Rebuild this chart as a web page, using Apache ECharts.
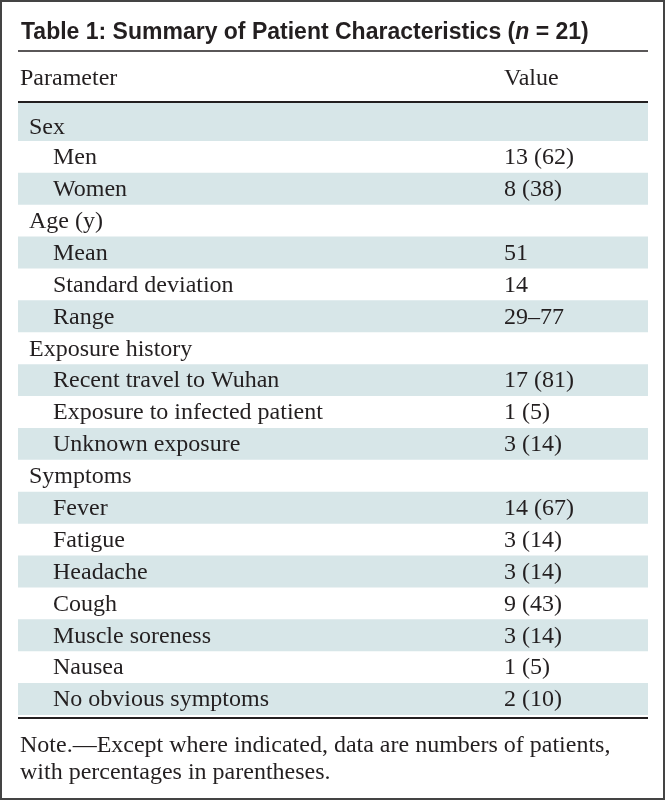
<!DOCTYPE html>
<html>
<head>
<meta charset="utf-8">
<script src="https://cdn.jsdelivr.net/npm/echarts@6/dist/echarts.min.js"></script>
<style>
html,body{margin:0;padding:0;background:#fff;}
#chart{width:666px;height:801px;}
</style>
</head>
<body>
<div id="chart"></div>
<script>
const titleText = 'Table 1: Summary of Patient Characteristics (';
const titleN = 'n';
const titleTail = ' = 21)';
const headerLabels = ['Parameter', 'Value'];
const rowLabels = ['Sex', 'Men', 'Women', 'Age (y)', 'Mean', 'Standard deviation', 'Range',
  'Exposure history', 'Recent travel to Wuhan', 'Exposure to infected patient', 'Unknown exposure',
  'Symptoms', 'Fever', 'Fatigue', 'Headache', 'Cough', 'Muscle soreness', 'Nausea', 'No obvious symptoms'];
const rowValues = ['', '13 (62)', '8 (38)', '', '51', '14', '29\u201377',
  '', '17 (81)', '1 (5)', '3 (14)',
  '', '14 (67)', '3 (14)', '3 (14)', '9 (43)', '3 (14)', '1 (5)', '2 (10)'];
const rowLevel = [0, 1, 1, 0, 1, 1, 1, 0, 1, 1, 1, 0, 1, 1, 1, 1, 1, 1, 1];
const noteLines = ['Note.\u2014Except where indicated, data are numbers of patients,',
  'with percentages in parentheses.'];

const SERIF = '"Liberation Serif", "DejaVu Serif", serif';
const SANS = '"Liberation Sans", "DejaVu Sans", sans-serif';
const INK = '#231f20';
const BAND = '#d7e6e8';
const FS = 24;

const chart = echarts.init(document.getElementById('chart'), null, {renderer: 'canvas'});

const option = {
  animation: false,
  backgroundColor: '#fff',
  grid: {left: 18, right: 18, top: 109, height: 606, containLabel: false},
  xAxis: {type: 'value', min: 0, max: 1, show: false},
  yAxis: {type: 'category', data: rowLabels, inverse: true, show: false},
  title: {
    left: 16, top: 16,
    text: '{b|' + titleText + '}{i|' + titleN + '}{b|' + titleTail + '}',
    textStyle: {
      rich: {
        b: {fontFamily: SANS, fontWeight: 'bold', fontSize: 23, color: INK},
        i: {fontFamily: SANS, fontWeight: 'bold', fontStyle: 'italic', fontSize: 23, color: INK}
      }
    }
  },
  graphic: [
    {type: 'rect', shape: {x: 1, y: 1, width: 663, height: 798}, style: {fill: 'none', stroke: '#444', lineWidth: 2}, z: 100},
    {type: 'line', shape: {x1: 18, y1: 51, x2: 648, y2: 51}, style: {stroke: INK, lineWidth: 1.5}},
    {type: 'text', x: 20, y: 79, style: {text: headerLabels[0], font: FS + 'px ' + SERIF, fill: INK, verticalAlign: 'middle'}},
    {type: 'text', x: 504, y: 79, style: {text: headerLabels[1], font: FS + 'px ' + SERIF, fill: INK, verticalAlign: 'middle'}},
    {type: 'line', shape: {x1: 18, y1: 102, x2: 648, y2: 102}, style: {stroke: INK, lineWidth: 2}},
    {type: 'line', shape: {x1: 18, y1: 718, x2: 648, y2: 718}, style: {stroke: INK, lineWidth: 2}},
    {type: 'text', x: 20, y: 746, style: {text: noteLines[0], font: FS + 'px ' + SERIF, fill: INK, verticalAlign: 'middle'}},
    {type: 'text', x: 20, y: 773, style: {text: noteLines[1], font: FS + 'px ' + SERIF, fill: INK, verticalAlign: 'middle'}}
  ],
  series: [{
    type: 'custom',
    coordinateSystem: 'cartesian2d',
    data: rowLabels.map((l, i) => [0, i]),
    renderItem: function (params, api) {
      const idx = api.value(1);
      const left = api.coord([0, idx]);
      const right = api.coord([1, idx]);
      const h = api.size([0, 1])[1];
      let top = left[1] - h / 2;
      let bh = h;
      let ty = left[1] + 1;
      if (idx === 0) { top -= 6; bh += 6; ty += 2; }
      const children = [];
      if (idx % 2 === 0) {
        children.push({type: 'rect', shape: {x: left[0], y: top, width: right[0] - left[0], height: bh}, style: {fill: BAND}});
      }
      children.push({type: 'text', x: left[0] + (rowLevel[idx] ? 35 : 11), y: ty,
        style: {text: rowLabels[idx], font: FS + 'px ' + SERIF, fill: INK, verticalAlign: 'middle'}});
      if (rowValues[idx]) {
        children.push({type: 'text', x: 504, y: ty,
          style: {text: rowValues[idx], font: FS + 'px ' + SERIF, fill: INK, verticalAlign: 'middle'}});
      }
      return {type: 'group', children: children};
    }
  }]
};
chart.setOption(option);
</script>
</body>
</html>
